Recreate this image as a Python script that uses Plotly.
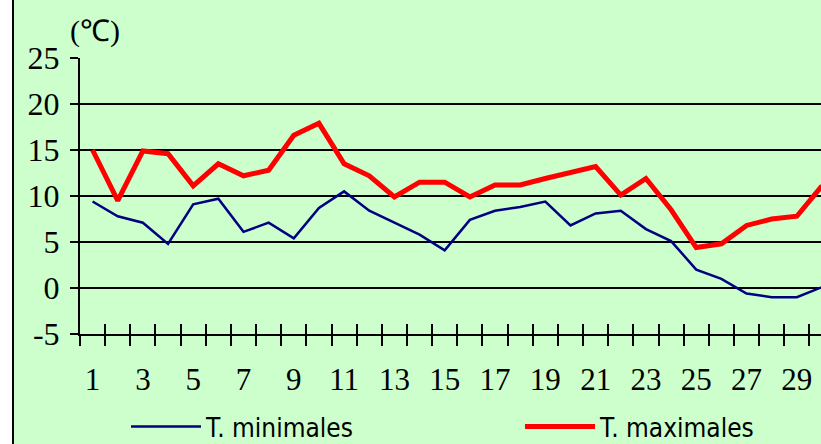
import plotly.graph_objects as go

days = list(range(1, 31))
t_min = [9.4, 7.8, 7.1, 4.8, 9.1, 9.7, 6.1, 7.1, 5.4, 8.7,
         10.5, 8.4, 7.1, 5.8, 4.1, 7.4, 8.4, 8.8, 9.4, 6.8,
         8.1, 8.4, 6.4, 5.1, 2.0, 1.0, -0.6, -1.0, -1.0, 0.1]
t_max = [15.0, 9.5, 14.9, 14.6, 11.1, 13.5, 12.2, 12.8, 16.6, 17.9,
         13.5, 12.2, 9.9, 11.5, 11.5, 9.9, 11.2, 11.2, 11.9, 12.6,
         13.2, 10.1, 11.9, 8.5, 4.4, 4.8, 6.8, 7.5, 7.8, 11.1]
label_days = list(range(1, 32, 2))
y_ticks = [-5, 0, 5, 10, 15, 20, 25]
y_labels = ["-5", "0", "5", "10", "15", "20", "25"]
boundaries = [d - 0.5 for d in range(1, 33)]

BG = "#CCFFCC"
XR = [0.5, 29.96]
serif = "Liberation Serif, Times New Roman, serif"
narrow = "DejaVu Sans Condensed, Liberation Sans Narrow, sans-serif"

fig = go.Figure()
fig.add_trace(go.Scatter(x=days, y=t_min, mode="lines", name="T. minimales",
                         line=dict(color="#000080", width=2.5),
                         xaxis="x", yaxis="y", legend="legend"))
fig.add_trace(go.Scatter(x=days, y=t_max, mode="lines", name="T. maximales",
                         line=dict(color="#FF0000", width=5),
                         xaxis="x2", yaxis="y", legend="legend2"))

leg_common = dict(orientation="h", y=-0.25, xanchor="left", yanchor="top",
                  font=dict(family=narrow, size=26, color="black"),
                  bgcolor="rgba(0,0,0,0)", itemwidth=70)

fig.update_layout(
    width=821, height=444,
    margin=dict(l=80, r=0, t=58, b=110, autoexpand=False),
    paper_bgcolor="white",
    plot_bgcolor="rgba(0,0,0,0)",
    showlegend=True,
    legend=dict(x=(126 - 80) / 741, **leg_common),
    legend2=dict(x=(520 - 80) / 741, **leg_common),
    xaxis=dict(range=XR, tickmode="array", tickvals=label_days,
               ticktext=[str(d) for d in label_days], ticks="",
               minor=dict(tickmode="array", tickvals=boundaries, ticks="outside",
                          ticklen=10, tickwidth=2, tickcolor="black", showgrid=False),
               showline=True, linecolor="black", linewidth=2,
               showgrid=False, zeroline=False, ticklabelstandoff=17,
               tickfont=dict(family=serif, size=31, color="black")),
    xaxis2=dict(range=XR, overlaying="x", anchor="y", side="bottom",
                tickmode="array", tickvals=boundaries, ticks="inside",
                ticklen=10, tickwidth=2, tickcolor="black",
                showticklabels=False, showgrid=False, zeroline=False, showline=False),
    yaxis=dict(range=[-5, 25], tickmode="array", tickvals=y_ticks, ticktext=y_labels,
               showgrid=True, gridcolor="black", gridwidth=2,
               zeroline=False, showline=True, linecolor="black", linewidth=2,
               ticks="outside", ticklen=8, tickwidth=2, tickcolor="black",
               ticklabelstandoff=4,
               tickfont=dict(family=serif, size=32, color="black")),
    shapes=[dict(type="rect", xref="paper", yref="paper",
                 x0=(13 - 80) / 741, x1=1.2, y0=-1.0, y1=1.5,
                 fillcolor=BG, line=dict(color="black", width=2), layer="below")],
    annotations=[dict(text="(℃)", xref="paper", yref="paper",
                      x=(68 - 80) / 741, y=(333.5 - 32) / 275,
                      xanchor="left", yanchor="middle", showarrow=False,
                      font=dict(family=serif, size=30, color="black"))],
)

fig.write_html("out.html", config={"displayModeBar": False},
               post_script="document.body.style.margin='0';document.body.style.overflow='hidden';")
